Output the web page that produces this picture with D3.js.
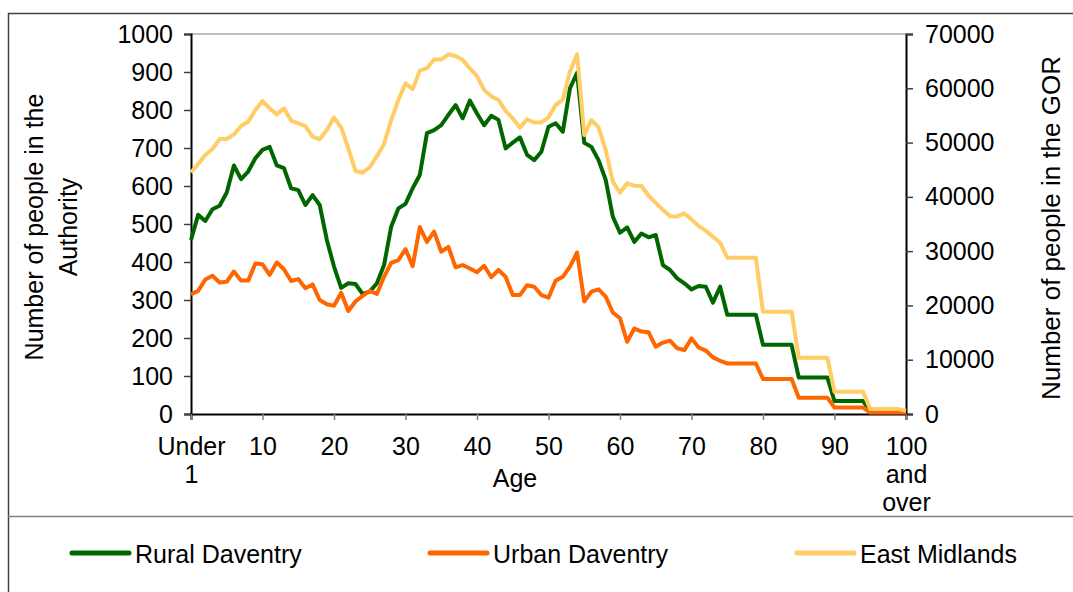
<!DOCTYPE html>
<html>
<head>
<meta charset="utf-8">
<script src="https://cdn.jsdelivr.net/npm/d3@7"></script>
<style>
    body { margin: 0; background: #fff; }
    svg { display: block; font-family: "Liberation Sans", Arial, sans-serif; }
    .tick text { font-size: 25px; fill: #000; }
</style>
</head>
<body>
<svg id="chart" width="1073" height="592"></svg>
<script>
// ages 0 (under 1) .. 100 (100 and over)
const ages = d3.range(0, 101);

const ruralDaventry = [458, 524, 508, 539, 548, 583, 654, 618, 638, 673,
    695, 703, 654, 647, 594, 589, 550, 576, 550, 458,
    388, 332, 344, 342, 316, 322, 344, 392, 493, 541,
    553, 594, 629, 739, 747, 760, 787, 813, 778, 825,
    791, 760, 785, 774, 699, 714, 728, 682, 668, 690,
    756, 765, 743, 857, 898, 714, 703, 668, 616, 519,
    477, 491, 453, 475, 465, 471, 392, 379, 357, 344,
    328, 337, 335, 293, 335, 261, 261, 261, 261, 261,
    182, 182, 182, 182, 182, 96, 96, 96, 96, 96,
    34, 34, 34, 34, 34, 8, 8, 8, 8, 8, 8];

const urbanDaventry = [315, 324, 354, 364, 346, 348, 375, 351, 351, 396,
    394, 366, 399, 381, 350, 355, 331, 341, 300, 289,
    285, 319, 271, 296, 311, 324, 316, 361, 398, 405,
    434, 389, 492, 453, 480, 427, 440, 386, 392, 383,
    373, 390, 360, 379, 361, 313, 313, 339, 335, 313,
    306, 351, 361, 388, 425, 296, 322, 328, 309, 267,
    252, 190, 225, 217, 215, 177, 188, 193, 173, 168,
    199, 175, 167, 149, 140, 133, 133, 133, 133, 133,
    92, 92, 92, 92, 92, 43, 43, 43, 43, 43,
    17, 17, 17, 17, 17, 4, 4, 4, 4, 4, 4];

const eastMidlands = [44500, 46050, 47700, 48800, 50650, 50650, 51500, 53050, 53850, 56000,
    57650, 56300, 55200, 56300, 54050, 53550, 53050, 51100, 50600, 52300,
    54600, 52800, 48950, 44750, 44450, 45450, 47500, 49750, 54150, 57850,
    60900, 59850, 63250, 63700, 65300, 65300, 66250, 65950, 65200, 63700,
    62250, 59700, 58550, 57850, 55850, 54450, 52750, 54300, 53700, 53700,
    54650, 56900, 57950, 63050, 66250, 51400, 54150, 52800, 48650, 42800,
    40750, 42500, 42050, 42000, 40200, 38900, 37600, 36450, 36400, 36950,
    35850, 34600, 33750, 32650, 31550, 28800, 28800, 28800, 28800, 28800,
    18850, 18850, 18850, 18850, 18850, 10370, 10370, 10370, 10370, 10370,
    4100, 4100, 4100, 4100, 4100, 900, 900, 900, 900, 900, 600];

const xTickValues = [0, 10, 20, 30, 40, 50, 60, 70, 80, 90, 100];
const xTickLabels = [["Under", "1"], ["10"], ["20"], ["30"], ["40"], ["50"],
    ["60"], ["70"], ["80"], ["90"], ["100", "and", "over"]];
const leftTicks = d3.range(0, 1001, 100);
const rightTicks = d3.range(0, 70001, 10000);

const seriesNames = ["Rural Daventry", "Urban Daventry", "East Midlands"];
const seriesColors = ["#006600", "#ff6600", "#ffcc66"];

const svg = d3.select("#chart");

// outer frame + legend separator
svg.append("path")
    .attr("d", "M8.5,592V13.5H1073")
    .attr("fill", "none")
    .attr("stroke", "#404040")
    .attr("stroke-width", 1.5);
svg.append("line")
    .attr("x1", 8).attr("x2", 1073)
    .attr("y1", 516.5).attr("y2", 516.5)
    .attr("stroke", "#808080")
    .attr("stroke-width", 1.5);

const x = d3.scaleLinear().domain([0, 100]).range([191, 906]);
const yLeft = d3.scaleLinear().domain([0, 1000]).range([414, 34]);
const yRight = d3.scaleLinear().domain([0, 70000]).range([414, 34]);

// plot top border
svg.append("line")
    .attr("x1", 191).attr("x2", 906)
    .attr("y1", 34).attr("y2", 34)
    .attr("stroke", "#c0c0c0")
    .attr("stroke-width", 2);

//left axis
const gLeft = svg.append("g")
    .attr("transform", "translate(191,0)")
    .call(d3.axisLeft(yLeft).tickValues(leftTicks).tickFormat(d3.format("d"))
        .tickSize(7).tickPadding(11));
//right axis
const gRight = svg.append("g")
    .attr("transform", "translate(906,0)")
    .call(d3.axisRight(yRight).tickValues(rightTicks).tickFormat(d3.format("d"))
        .tickSize(7).tickPadding(12));
//x axis
const gX = svg.append("g")
    .attr("transform", "translate(0,414)")
    .call(d3.axisBottom(x).tickValues(xTickValues).tickSize(6).tickFormat(""));

[gLeft, gRight, gX].forEach(g => {
    g.select(".domain").attr("stroke", "#000").attr("stroke-width", 2);
    g.selectAll(".tick line").attr("stroke", "#404040").attr("stroke-width", 1.5);
});
gX.selectAll(".tick line").attr("stroke", "#808080");

// multi line x labels
gX.selectAll(".tick text").remove();
gX.selectAll(".tick").each(function (d, i) {
    const t = d3.select(this).append("text")
        .attr("text-anchor", "middle")
        .attr("fill", "#000")
        .style("font-size", "25px");
    xTickLabels[i].forEach((s, j) => {
        t.append("tspan").attr("x", 0).attr("y", 41 + j * 28).text(s);
    });
});

// axis titles
svg.append("text")
    .attr("x", 515).attr("y", 487)
    .attr("text-anchor", "middle")
    .style("font-size", "25px")
    .text("Age");

const leftTitle = svg.append("text")
    .attr("transform", "translate(43,227) rotate(-90)")
    .attr("text-anchor", "middle")
    .style("font-size", "25px");
leftTitle.append("tspan").attr("x", 0).attr("y", 0).text("Number of people in the");
leftTitle.append("tspan").attr("x", 0).attr("y", 34).text("Authority");

svg.append("text")
    .attr("transform", "translate(1060,228) rotate(-90)")
    .attr("text-anchor", "middle")
    .style("font-size", "26px")
    .text("Number of people in the GOR");

// lines
const lineLeft = d3.line().x((d, i) => x(ages[i])).y(d => yLeft(d));
const lineRight = d3.line().x((d, i) => x(ages[i])).y(d => yRight(d));

const seriesData = [
    { values: ruralDaventry, gen: lineLeft },
    { values: urbanDaventry, gen: lineLeft },
    { values: eastMidlands, gen: lineRight }
];
seriesData.forEach((s, i) => {
    svg.append("path")
        .attr("d", s.gen(s.values))
        .attr("fill", "none")
        .attr("stroke", seriesColors[i])
        .attr("stroke-width", 4)
        .attr("stroke-linejoin", "round");
});

// legend
const legendX = [72, 430, 797];
const lg = svg.selectAll(".legend-item")
    .data(seriesNames)
    .enter()
    .append("g")
    .attr("class", "legend-item")
    .attr("transform", (d, i) => `translate(${legendX[i]},553)`);
lg.append("line")
    .attr("x1", 0).attr("x2", 57)
    .attr("stroke", (d, i) => seriesColors[i])
    .attr("stroke-width", 5)
    .attr("stroke-linecap", "round");
lg.append("text")
    .attr("x", 63).attr("y", 10)
    .style("font-size", "25px")
    .text(d => d);
</script>
</body>
</html>
